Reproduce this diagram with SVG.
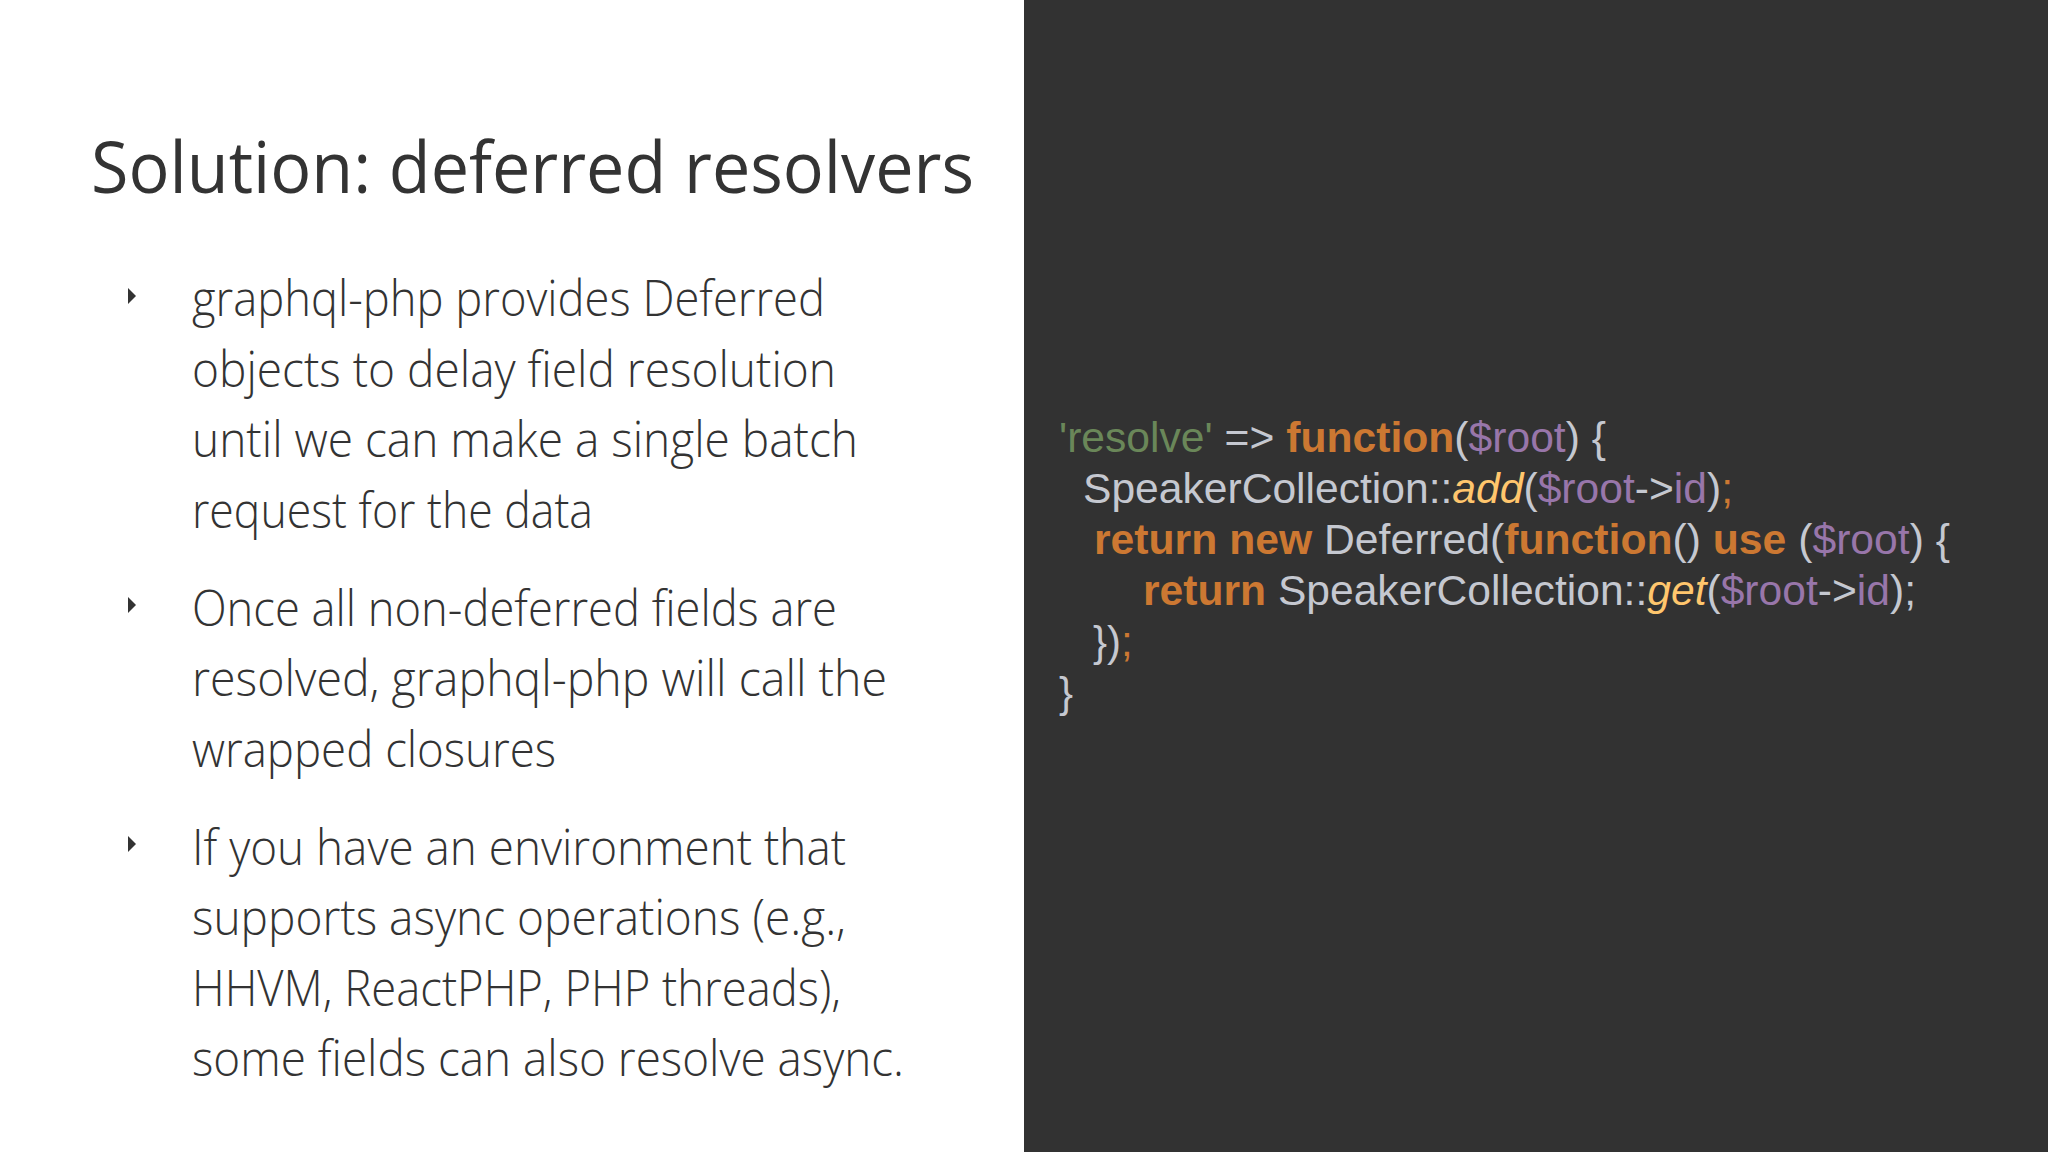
<svg xmlns="http://www.w3.org/2000/svg" width="2048" height="1152" viewBox="0 0 2048 1152">
<style>
.t{font-family:"Open Sans","Noto Sans",sans-serif;font-weight:300;fill:#333}
.b{font-size:49px}
.c{font-family:"Liberation Sans",Arial,sans-serif;font-size:42px;fill:#c5c8d0}
.k{fill:#cc7832;font-weight:bold}.v{fill:#9876aa}.s{fill:#6a8759}.f{fill:#ffc66d;font-style:italic}
.tri{fill:#333}
</style>
<rect width="2048" height="1152" fill="#ffffff"/>
<rect x="1024" y="0" width="1024" height="1152" fill="#323232"/>
<g id="title"><text class="t" x="91" y="193" font-size="72" textLength="883" lengthAdjust="spacingAndGlyphs" style="font-weight:400">Solution: deferred resolvers</text></g>
<g id="bullets">
<polygon class="tri" points="128,288 136,296 128,304"/>
<polygon class="tri" points="128,597 136,605 128,613"/>
<polygon class="tri" points="128,836 136,844 128,852"/>
<text class="t b" x="192" y="316" textLength="633" lengthAdjust="spacingAndGlyphs">graphql-php provides Deferred</text>
<text class="t b" x="192" y="387" textLength="644" lengthAdjust="spacingAndGlyphs">objects to delay field resolution</text>
<text class="t b" x="192" y="457" textLength="666" lengthAdjust="spacingAndGlyphs">until we can make a single batch</text>
<text class="t b" x="192" y="528" textLength="401" lengthAdjust="spacingAndGlyphs">request for the data</text>
<text class="t b" x="192" y="626" textLength="645" lengthAdjust="spacingAndGlyphs">Once all non-deferred fields are</text>
<text class="t b" x="192" y="696" textLength="695" lengthAdjust="spacingAndGlyphs">resolved, graphql-php will call the</text>
<text class="t b" x="192" y="767" textLength="364" lengthAdjust="spacingAndGlyphs">wrapped closures</text>
<text class="t b" x="192" y="865" textLength="654" lengthAdjust="spacingAndGlyphs">If you have an environment that</text>
<text class="t b" x="192" y="935" textLength="654" lengthAdjust="spacingAndGlyphs">supports async operations (e.g.,</text>
<text class="t b" x="192" y="1006" textLength="649" lengthAdjust="spacingAndGlyphs">HHVM, ReactPHP, PHP threads),</text>
<text class="t b" x="192" y="1076" textLength="712" lengthAdjust="spacingAndGlyphs">some fields can also resolve async.</text>
</g>
<g id="code">
<text class="c" x="1059" y="452" textLength="547" lengthAdjust="spacingAndGlyphs"><tspan class="s">'resolve'</tspan> =&gt; <tspan class="k">function</tspan>(<tspan class="v">$root</tspan>) {</text>
<text class="c" x="1083" y="503" textLength="650" lengthAdjust="spacingAndGlyphs">SpeakerCollection::<tspan class="f">add</tspan>(<tspan class="v">$root</tspan>-&gt;<tspan class="v">id</tspan>)<tspan class="k" style="font-weight:normal">;</tspan></text>
<text class="c" x="1094" y="554" textLength="856" lengthAdjust="spacingAndGlyphs"><tspan class="k">return new</tspan> Deferred(<tspan class="k">function</tspan>() <tspan class="k">use</tspan> (<tspan class="v">$root</tspan>) {</text>
<text class="c" x="1143" y="605" textLength="773" lengthAdjust="spacingAndGlyphs"><tspan class="k">return</tspan> SpeakerCollection::<tspan class="f">get</tspan>(<tspan class="v">$root</tspan>-&gt;<tspan class="v">id</tspan>);</text>
<text class="c" x="1093" y="656">})<tspan class="k" style="font-weight:normal">;</tspan></text>
<text class="c" x="1059" y="707">}</text>
</g>
</svg>
